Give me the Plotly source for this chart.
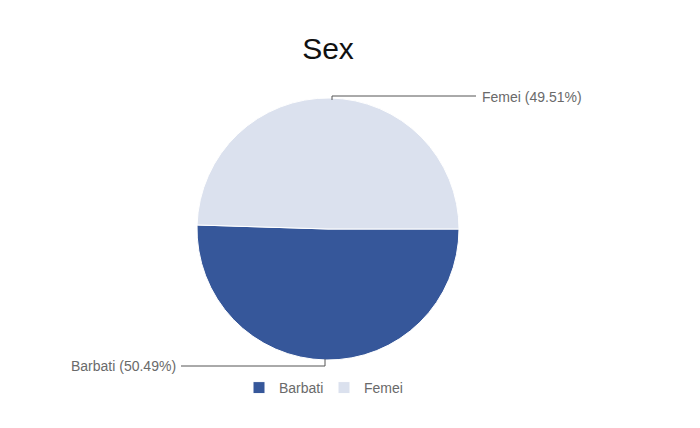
import plotly.graph_objects as go

labels = ["Barbati", "Femei"]
values = [50.49, 49.51]
colors = ["#36579a", "#dbe1ee"]
title_text = "Sex"

W, H = 700, 428
OFF = 8  # page body margin
cx, cy, R = 328, 229, 131

def px(x):
    return (x - OFF) / W

def py(y):
    return 1 - (y - OFF) / H

total = sum(values)
pct = [v / total * 100 for v in values]

fig = go.Figure(go.Pie(
    labels=labels, values=values, sort=False, direction="clockwise", rotation=90,
    marker=dict(colors=colors, line=dict(color="white", width=1)),
    textinfo="none", hoverinfo="label+percent",
    domain=dict(x=[px(cx - R), px(cx + R)], y=[py(cy + R), py(cy - R)]),
))

line_color = "#555555"
shapes = [
    dict(type="line", xref="paper", yref="paper", x0=px(332), y0=py(100), x1=px(332), y1=py(96), line=dict(color=line_color, width=1)),
    dict(type="line", xref="paper", yref="paper", x0=px(332), y0=py(96), x1=px(476), y1=py(96), line=dict(color=line_color, width=1)),
    dict(type="line", xref="paper", yref="paper", x0=px(325), y0=py(359), x1=px(325), y1=py(366), line=dict(color=line_color, width=1)),
    dict(type="line", xref="paper", yref="paper", x0=px(325), y0=py(366), x1=px(181), y1=py(366), line=dict(color=line_color, width=1)),
]

font_family = "Liberation Sans, Arial"
annotations = [
    dict(x=px(480), y=py(97), xref="paper", yref="paper", xanchor="left", yanchor="middle",
         text=f"{labels[1]} ({pct[1]:.2f}%)", showarrow=False,
         font=dict(family=font_family, size=14, color="#6a6a6a")),
    dict(x=px(178), y=py(366), xref="paper", yref="paper", xanchor="right", yanchor="middle",
         text=f"{labels[0]} ({pct[0]:.2f}%)", showarrow=False,
         font=dict(family=font_family, size=14, color="#6a6a6a")),
]

fig.update_layout(
    width=W, height=H,
    margin=dict(l=0, r=0, t=0, b=0),
    paper_bgcolor="white", plot_bgcolor="white",
    title=dict(text=title_text, x=px(328), xanchor="center", y=py(48), yanchor="middle",
               font=dict(family=font_family, size=30, color="#111111")),
    showlegend=True,
    legend=dict(orientation="h", x=px(239), xanchor="left", y=py(388), yanchor="middle",
                font=dict(family=font_family, size=14, color="#6a6a6a"),
                entrywidth=40, itemclick=False),
    shapes=shapes, annotations=annotations,
)

fig.write_html("out.html")
